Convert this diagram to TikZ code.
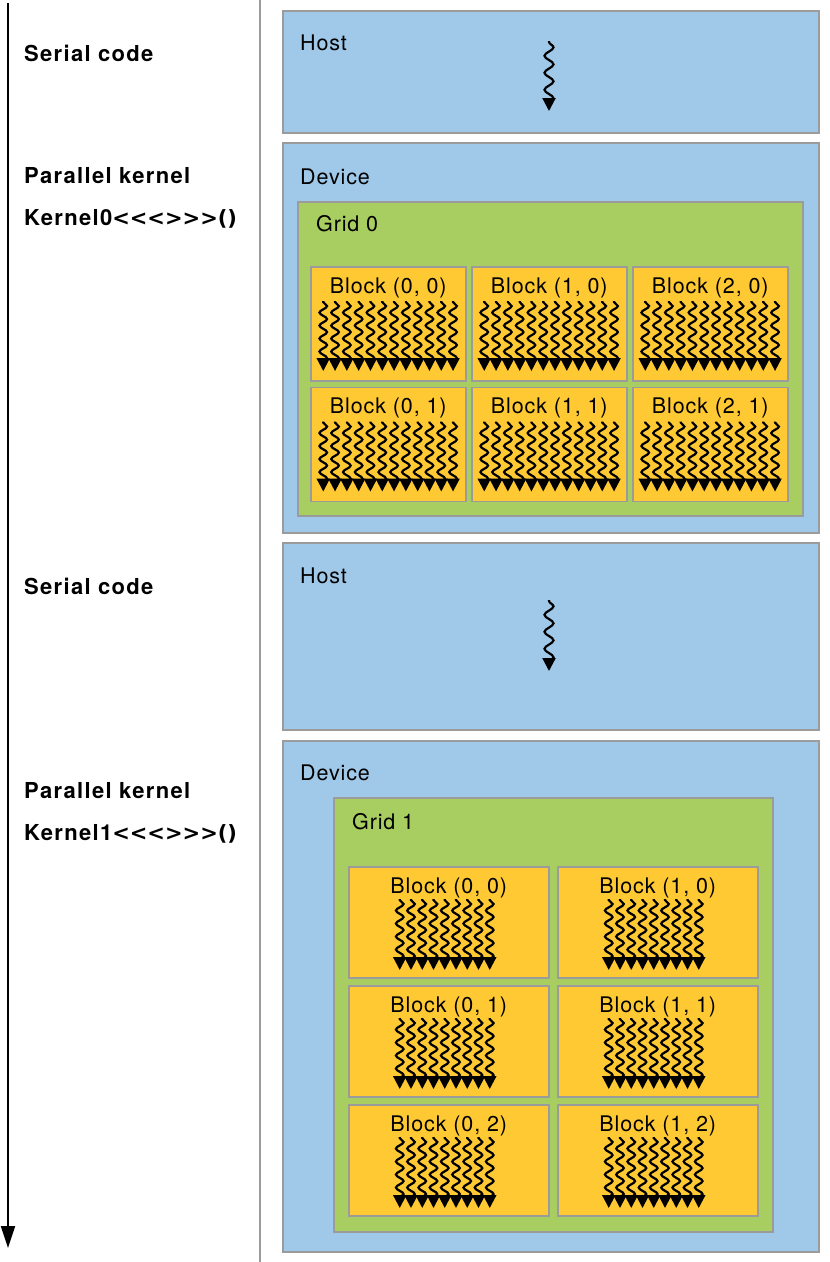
\documentclass[tikz,border=0pt]{standalone}
\usepackage{fontspec}
\setmainfont{TeX Gyre Heros}
\newfontfamily\labelfont[LetterSpace=6,Ligatures=TeXOff]{TeX Gyre Heros}
\newfontfamily\boxfont[LetterSpace=4]{TeX Gyre Heros}
\newfontfamily\bracketfont[Ligatures=TeXOff]{DejaVu Sans}
\usepackage{tikz}
\usetikzlibrary{calc,positioning,arrows.meta,decorations.pathmorphing}

\definecolor{hostblue}{RGB}{160,200,232}
\definecolor{gridgreen}{RGB}{168,205,96}
\definecolor{blockyellow}{RGB}{255,201,51}
\definecolor{edgegray}{RGB}{155,155,155}

% launch brackets, wide and heavy
\newcommand{\launch}{{\bracketfont\bfseries\fontsize{21}{25}\selectfont<<<>>>()}}

% threads of one block: node, count, spacing, x offset, top, tip
\newcommand{\blockthreads}[6]{%
	\foreach \t in {1,...,#2}{%
		\draw[thread] ($(#1.north)+({#4+(\t-1)*#3},#5)$) -- ($(#1.north)+({#4+(\t-1)*#3},#6)$);
	}%
}

\begin{document}
\begin{tikzpicture}[x=1pt,y=-1pt,
	outerbox/.style={draw=edgegray,line width=1.5pt,fill=hostblue,inner sep=0pt,anchor=north west,minimum width=536pt},
	gridbox/.style={draw=edgegray,line width=1.5pt,fill=gridgreen,inner sep=0pt,anchor=north west},
	blockbox/.style={draw=edgegray,line width=1.5pt,fill=blockyellow,inner sep=0pt,anchor=north west},
	steplabel/.style={font=\labelfont\bfseries\fontsize{22}{26}\selectfont,anchor=base west,inner sep=0pt},
	boxlabel/.style={font=\boxfont\fontsize{21.5}{25}\selectfont,inner sep=0pt},
	thread/.style={line width=2.2pt,-{Triangle[width=13pt,length=13pt]},decorate,
		decoration={snake,amplitude=3.8pt,segment length=13pt,pre length=1pt,post length=4pt}},
	hostthread/.style={thread,decoration={snake,amplitude=4.5pt,segment length=17pt,pre length=1pt,post length=5pt}},
	timeline/.style={line width=2pt,-{Triangle[width=14pt,length=22pt]}},
	]
	\useasboundingbox (0,0) rectangle (830,1262);

	% time axis and separator
	\coordinate (ttop) at (8,3);
	\coordinate (tbot) at (8,1248);
	\draw[timeline] (ttop) -- (tbot);
	\coordinate (stop) at (260,0);
	\coordinate (sbot) at (260,1262);
	\draw[edgegray,line width=1.5pt] (stop) -- (sbot);

	\node[steplabel] (serial1) at (24,61) {Serial code};
	\node[steplabel] (par0) at (24,183) {Parallel kernel};
	\node[steplabel] (kern0) at (24,225) {Kernel0\launch};
	\node[steplabel] (serial2) at (24,594) {Serial code};
	\node[steplabel] (par1) at (24,798) {Parallel kernel};
	\node[steplabel] (kern1) at (24,840) {Kernel1\launch};

	% host 1
	\node[outerbox,minimum height=122pt] (host1) at (282,10) {};
	\node[boxlabel,anchor=base west] (host1t) at ($(host1.north west)+(18,40)$) {Host};
	\coordinate (h1top) at (549,41);
	\coordinate (h1tip) at (549,111);
	\draw[hostthread] (h1top) -- (h1tip);

	% device 1 / grid 0
	\node[outerbox,minimum height=390pt] (dev1) at (282,142) {};
	\node[boxlabel,anchor=base west] (dev1t) at ($(dev1.north west)+(18,42)$) {Device};
	\node[gridbox,minimum width=505pt,minimum height=314pt] (grid0) at (297,201) {};
	\node[boxlabel,anchor=base west] (grid0t) at ($(grid0.north west)+(19,30)$) {Grid 0};
	\foreach \c in {0,1,2}
		\foreach \r in {0,1}{
			\node[blockbox,minimum width=155pt,minimum height=114pt] (gz\c\r) at ({310+\c*161},{266+\r*120.5}) {};
			\node[boxlabel,anchor=base] (gz\c\r t) at ($(gz\c\r.north)+(0,27)$) {Block (\c, \r)};
			\blockthreads{gz\c\r}{12}{11.8}{-65}{35}{105}
		}

	% host 2
	\node[outerbox,minimum height=187pt] (host2) at (282,542) {};
	\node[boxlabel,anchor=base west] (host2t) at ($(host2.north west)+(18,41)$) {Host};
	\coordinate (h2top) at (549,600);
	\coordinate (h2tip) at (549,671);
	\draw[hostthread] (h2top) -- (h2tip);

	% device 2 / grid 1
	\node[outerbox,minimum height=511pt] (dev2) at (282,740) {};
	\node[boxlabel,anchor=base west] (dev2t) at ($(dev2.north west)+(18,40)$) {Device};
	\node[gridbox,minimum width=439pt,minimum height=434pt] (grid1) at (333,797) {};
	\node[boxlabel,anchor=base west] (grid1t) at ($(grid1.north west)+(19,32)$) {Grid 1};
	\foreach \c in {0,1}
		\foreach \r in {0,1,2}{
			\node[blockbox,minimum width=200pt,minimum height=111pt] (go\c\r) at ({348+\c*209},{866+\r*119}) {};
			\node[boxlabel,anchor=base] (go\c\r t) at ($(go\c\r.north)+(0,27)$) {Block (\c, \r)};
			\blockthreads{go\c\r}{9}{11.25}{-49}{33}{104}
		}
\end{tikzpicture}
\end{document}
